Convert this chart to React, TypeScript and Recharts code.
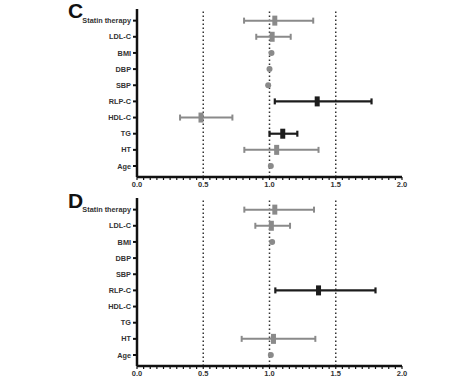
import React from "react";
import { ScatterChart, Scatter, XAxis, YAxis, ReferenceLine, ErrorBar } from "recharts";

const categories = ["Statin therapy", "LDL-C", "BMI", "DBP", "SBP", "RLP-C", "HDL-C", "TG", "HT", "Age"];

// panel C: odds ratio with 95% CI (null = no interval drawn)
const cEst = [1.04, 1.02, 1.015, 1.0, 0.99, 1.36, 0.483, 1.1, 1.054, 1.01];
const cLow = [0.808, 0.9, null, null, null, 1.04, 0.325, 1.0, 0.81, null];
const cHigh = [1.33, 1.16, null, null, null, 1.77, 0.72, 1.21, 1.37, null];
const cSig = [false, false, false, false, false, true, false, true, false, false];

// panel D
const dEst = [1.04, 1.014, 1.02, null, null, 1.37, null, null, 1.03, 1.01];
const dLow = [0.81, 0.893, null, null, null, 1.044, null, null, 0.79, null];
const dHigh = [1.336, 1.155, null, null, null, 1.8, null, null, 1.346, null];
const dSig = [false, false, false, false, false, true, false, false, false, false];

const xTicks = Array.from({ length: 41 }, (_, i) => Math.round(i * 5) / 100);
const majors = [0, 0.5, 1, 1.5, 2];

const GRAY = "#8a8a8a";
const BLACK = "#1c1c1c";
const FONT = "'Liberation Sans', Arial, sans-serif";

type Row = { y: number; x: number; err?: number[] };

function split(est: (number | null)[], low: (number | null)[], high: (number | null)[], sig: boolean[]) {
  const gray: Row[] = [];
  const black: Row[] = [];
  const dots: Row[] = [];
  est.forEach((v, i) => {
    if (v === null) return;
    const lo = low[i];
    const hi = high[i];
    if (lo === null || hi === null) {
      dots.push({ y: i, x: v });
      return;
    }
    const row = { y: i, x: v, err: [v - lo, hi - v] };
    (sig[i] ? black : gray).push(row);
  });
  return { gray, black, dots };
}

const boxShape = (color: string) => (props: any) => {
  const { cx, cy } = props;
  return <rect x={cx - 2.5} y={cy - 5} width={5} height={10} fill={color} />;
};

const dotShape = (props: any) => <circle cx={props.cx} cy={props.cy} r={3} fill={GRAY} />;

function Panel({ est, low, high, sig, marginTop, height }: any) {
  const { gray, black, dots } = split(est, low, high, sig);
  return (
    <ScatterChart width={474} height={height} margin={{ top: marginTop, right: 72, bottom: 0, left: 0 }}>
      <XAxis
        type="number"
        dataKey="x"
        domain={[0, 2]}
        ticks={xTicks}
        interval={0}
        tickFormatter={(v) => (majors.includes(v) ? v.toFixed(1) : "")}
        tickSize={3}
        tickLine={{ stroke: "#111", strokeWidth: 1.2 }}
        axisLine={{ stroke: "#111", strokeWidth: 2.5 }}
        tick={{ fontSize: 7.5, fontWeight: 700, fill: "#333", fontFamily: FONT }}
        height={13}
        allowDataOverflow
      />
      <XAxis xAxisId="top" orientation="top" type="number" domain={[0, 1]} height={0} tick={false} tickLine={false} axisLine={{ stroke: "#111", strokeWidth: 2.5 }} />
      <YAxis
        type="number"
        dataKey="y"
        domain={[-0.72, 9.68]}
        reversed
        ticks={[0, 1, 2, 3, 4, 5, 6, 7, 8, 9]}
        interval={0}
        tickFormatter={(v) => categories[v] ?? ""}
        tickSize={4}
        tickLine={{ stroke: "#111", strokeWidth: 2 }}
        axisLine={{ stroke: "#111", strokeWidth: 2.5 }}
        tick={{ fontSize: 7.3, fontWeight: 700, fill: "#333", fontFamily: FONT }}
        width={137}
        allowDataOverflow
      />
      <YAxis yAxisId="right" orientation="right" type="number" domain={[0, 1]} width={0} tick={false} tickLine={false} axisLine={{ stroke: "#111", strokeWidth: 2.5 }} />
      {[0.5, 1, 1.5].map((v) => (
        <ReferenceLine key={v} x={v} stroke="#333" strokeWidth={1.5} strokeDasharray="1.5 2.5" />
      ))}
      <Scatter data={gray} shape={boxShape(GRAY)} isAnimationActive={false}>
        <ErrorBar dataKey="err" direction="x" width={3} stroke={GRAY} strokeWidth={2} />
      </Scatter>
      <Scatter data={black} shape={boxShape(BLACK)} isAnimationActive={false}>
        <ErrorBar dataKey="err" direction="x" width={3} stroke={BLACK} strokeWidth={2.2} />
      </Scatter>
      <Scatter data={dots} shape={dotShape} isAnimationActive={false} />
    </ScatterChart>
  );
}

const letter: React.CSSProperties = {
  position: "absolute",
  left: 68,
  fontFamily: FONT,
  fontWeight: 700,
  fontSize: 21,
  color: "#111",
  lineHeight: 1,
};

export default function App() {
  return (
    <div style={{ position: "absolute", left: 0, top: 0, width: 474, height: 379, background: "#fff", overflow: "hidden" }}>
      <div style={{ position: "absolute", left: 0, top: 0 }}>
        <Panel est={cEst} low={cLow} high={cHigh} sig={cSig} marginTop={9} height={190} />
      </div>
      <div style={{ position: "absolute", left: 0, top: 190 }}>
        <Panel est={dEst} low={dLow} high={dHigh} sig={dSig} marginTop={8} height={189} />
      </div>
      <div style={{ ...letter, top: 0 }}>C</div>
      <div style={{ ...letter, top: 190 }}>D</div>
    </div>
  );
}
